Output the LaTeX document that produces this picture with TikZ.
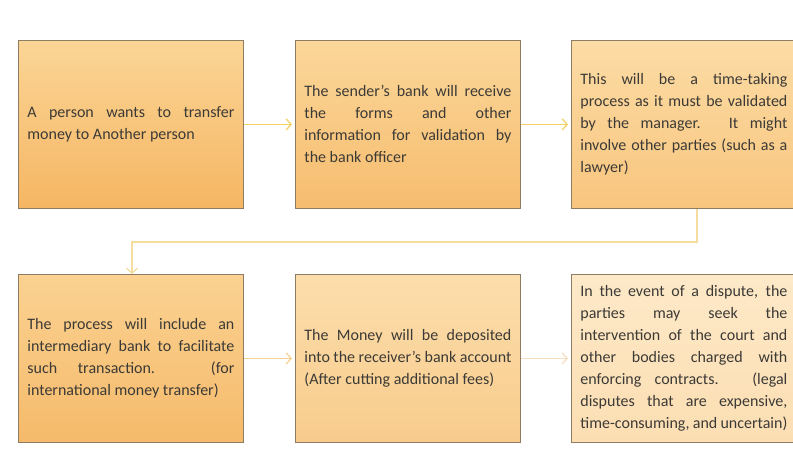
\documentclass[tikz,border=0pt]{standalone}
\usepackage{fontspec}
\setmainfont{Carlito}
\usetikzlibrary{arrows.meta}
\definecolor{txt}{HTML}{3C3A36}
\definecolor{bord}{HTML}{8E7D62}
\definecolor{arrA}{HTML}{F1D064}
\definecolor{arrB}{HTML}{F6DC9E}
\definecolor{arrC}{HTML}{F3D292}
\definecolor{arrD}{HTML}{F8DDC0}
\tikzset{
  boxstyle/.style={draw=bord, line width=0.8pt, minimum width=225pt, minimum height=168pt,
    text width=207pt, inner xsep=9pt, align=justify, text=txt,
    font=\fontsize{16}{22}\selectfont, anchor=north west},
  conn/.style={line width=1.4pt, -{Straight Barb[length=5pt,width=11pt,line width=1.2pt]}},
}
\begin{document}
\begin{tikzpicture}[x=1pt,y=-1pt]
\useasboundingbox (0,0) rectangle (793,453);
\clip (0,0) rectangle (793,453);
\fill[white] (0,0) rectangle (793,453);
\node[boxstyle, top color={rgb,255:red,251;green,213;blue,150}, bottom color={rgb,255:red,245;green,182;blue,99}] (b1) at (18,40)
  {A person wants to transfer\linebreak money to Another person};
\node[boxstyle, top color={rgb,255:red,251;green,215;blue,154}, bottom color={rgb,255:red,246;green,188;blue,110}] (b2) at (295,40)
  {The sender’s bank will receive\linebreak the forms and other\linebreak information for validation by\linebreak the bank officer};
\node[boxstyle, top color={rgb,255:red,252;green,220;blue,165}, bottom color={rgb,255:red,248;green,197;blue,126}] (b3) at (571,40)
  {This will be a time-taking\linebreak process as it must be validated\linebreak by the manager. It might\linebreak involve other parties (such as a\linebreak lawyer)};
\node[boxstyle, top color={rgb,255:red,251;green,210;blue,146}, bottom color={rgb,255:red,245;green,186;blue,106}] (b4) at (18,274)
  {The process will include an\linebreak intermediary bank to facilitate\linebreak such transaction. (for\linebreak international money transfer)};
\node[boxstyle, top color={rgb,255:red,252;green,222;blue,172}, bottom color={rgb,255:red,248;green,203;blue,140}] (b5) at (295,274)
  {The Money will be deposited\linebreak into the receiver’s bank account\linebreak (After cutting additional fees)};
\node[boxstyle, top color={rgb,255:red,253;green,233;blue,200}, bottom color={rgb,255:red,252;green,222;blue,178}] (b6) at (571,274)
  {In the event of a dispute, the\linebreak parties may seek the\linebreak intervention of the court and\linebreak other bodies charged with\linebreak enforcing contracts. (legal\linebreak disputes that are expensive,\linebreak time-consuming, and uncertain)};
\coordinate (ex) at (697,0);
\coordinate (ey) at (0,242);
\coordinate (ex4) at (132,0);
\draw[conn, arrA, shorten >=3pt] (b1.east) -- (b2.west);
\draw[conn, arrA, shorten >=3pt] (b2.east) -- (b3.west);
\draw[conn, arrB] (b3.south -| ex) -- (ex |- ey) -- (ex4 |- ey) -- (b4.north -| ex4);
\draw[conn, arrC, shorten >=3pt] (b4.east) -- (b5.west);
\draw[conn, arrD, shorten >=3pt] (b5.east) -- (b6.west);
\end{tikzpicture}
\end{document}
